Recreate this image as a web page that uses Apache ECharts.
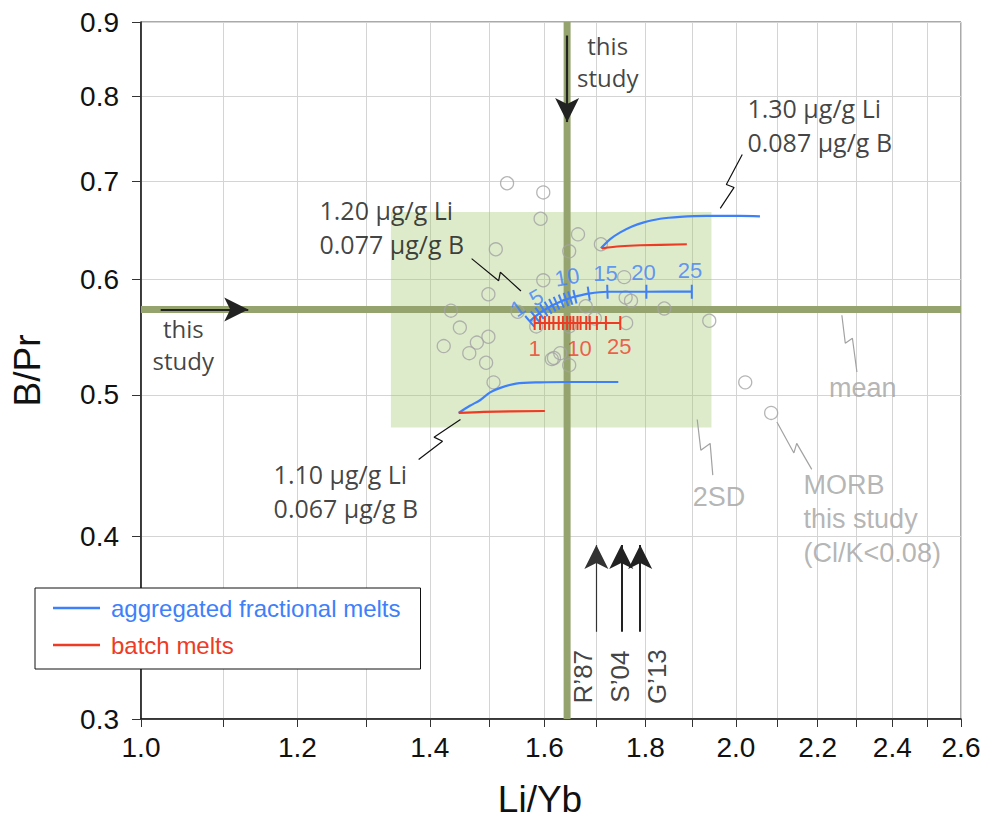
<!DOCTYPE html>
<html>
<head>
<meta charset="utf-8">
<script src="https://cdn.jsdelivr.net/npm/echarts@6/dist/echarts.min.js"></script>
<style>
  html, body { margin: 0; padding: 0; background: #fff; }
  #chart { width: 990px; height: 825px; }
</style>
</head>
<body>
<div id="chart"></div>
<script>
// MORB glasses, this study (Cl/K < 0.08)
const morbLiYb = [1.532, 1.598, 1.593, 1.664, 1.709, 1.647, 1.512, 1.598, 1.756, 1.499, 1.759, 1.770,
  1.435, 1.551, 1.679, 1.840, 1.939, 1.760, 1.450, 1.697, 1.585, 1.647, 1.499, 1.479, 1.423, 1.466,
  1.630, 1.618, 1.614, 1.647, 1.495, 1.508, 2.022, 2.084];
const morbBPr = [0.698, 0.688, 0.660, 0.644, 0.634, 0.627, 0.629, 0.599, 0.602, 0.586, 0.583, 0.580,
  0.571, 0.570, 0.575, 0.573, 0.562, 0.560, 0.556, 0.564, 0.557, 0.557, 0.548, 0.543, 0.540, 0.534,
  0.534, 0.530, 0.529, 0.524, 0.526, 0.510, 0.510, 0.486];

// mean and 2SD box
const meanLiYb = 1.643;
const meanBPr = 0.572;
const sd2LiYb = [1.338, 1.944];
const sd2BPr = [0.475, 0.667];

// melting models: aggregated fractional (afm) and batch, three source compositions
const afmMidLiYb = [1.573, 1.583, 1.591, 1.599, 1.607, 1.615, 1.623, 1.632, 1.641, 1.649, 1.658, 1.685, 1.722, 1.802, 1.900];
const afmMidBPr = [0.5615, 0.5656, 0.5687, 0.5714, 0.5736, 0.5759, 0.5777, 0.5796, 0.5811, 0.5825, 0.5837, 0.5866, 0.5883, 0.5883, 0.5884];
const batchMidLiYb = [1.582, 1.592, 1.601, 1.609, 1.617, 1.627, 1.635, 1.643, 1.649, 1.655, 1.663, 1.669, 1.680, 1.687, 1.701, 1.719, 1.748];
const batchMidBPr = [0.560, 0.560, 0.560, 0.560, 0.560, 0.560, 0.560, 0.560, 0.560, 0.560, 0.560, 0.560, 0.560, 0.560, 0.560, 0.560, 0.560];
const afmHighLiYb = [1.709, 1.727, 1.748, 1.772, 1.795, 1.831, 1.874, 1.932, 2.010, 2.057];
const afmHighBPr = [0.630, 0.639, 0.646, 0.652, 0.656, 0.660, 0.662, 0.663, 0.663, 0.6625];
const batchHighLiYb = [1.711, 1.748, 1.789, 1.889];
const batchHighBPr = [0.630, 0.632, 0.633, 0.634];
const afmLowLiYb = [1.448, 1.467, 1.485, 1.502, 1.520, 1.548, 1.592, 1.648, 1.744];
const afmLowBPr = [0.486, 0.4915, 0.496, 0.502, 0.5056, 0.509, 0.510, 0.5103, 0.5103];
const batchLowLiYb = [1.448, 1.491, 1.601];
const batchLowBPr = [0.486, 0.4868, 0.4875];

// % melting labels
const afmPctText = ['1', '5', '10', '15', '20', '25'];
const afmPctLiYb = [1.551, 1.585, 1.643, 1.718, 1.796, 1.896];
const afmPctBPr = [0.573, 0.583, 0.602, 0.605, 0.606, 0.6085];
const batchPctText = ['1', '10', '25'];
const batchPctLiYb = [1.582, 1.667, 1.746];
const batchPctBPr = [0.538, 0.538, 0.540];

// literature means
const refText = ['R’87', 'S’04', 'G’13'];
const refLiYb = [1.700, 1.750, 1.789];
const refArrowBPr = [0.3442, 0.3946];
const refLabelLiYb = [1.674, 1.7475, 1.825];
const refLabelBPr = 0.3207;

// axis ticks
const xTicks = [1.0, 1.1, 1.2, 1.3, 1.4, 1.5, 1.6, 1.7, 1.8, 1.9, 2.0, 2.1, 2.2, 2.3, 2.4, 2.5, 2.6];
const xLabels = [1.0, 1.2, 1.4, 1.6, 1.8, 2.0, 2.2, 2.4, 2.6];
const yTicks = [0.3, 0.4, 0.5, 0.6, 0.7, 0.8, 0.9];

// annotation anchors
const noteText = ['1.30 µg/g Li\n0.087 µg/g B', '1.20 µg/g Li\n0.077 µg/g B', '1.10 µg/g Li\n0.067 µg/g B'];
const noteLiYb = [2.026, 1.2305, 1.1664];
const noteBPr = [0.7647, 0.6515, 0.430];
const studyText = ['this\nstudy', 'this\nstudy'];
const studyLiYb = [1.7226, 1.0505];
const studyBPr = [0.8456, 0.5416];
const greyText = ['mean', '2SD'];
const greyLiYb = [2.319, 1.961];
const greyBPr = [0.5053, 0.4258];
const morbText = ['MORB\nthis study\n(Cl/K<0.08)'];
const morbNoteLiYb = [2.163];
const morbNoteBPr = [0.411];

const leader130 = [[1.964, 0.6709], [1.996, 0.6934], [1.978, 0.6967], [2.015, 0.7304]];
const leader120 = [[1.470, 0.6198], [1.517, 0.5986], [1.520, 0.6066], [1.557, 0.589]];
const leader110 = [[1.451, 0.481], [1.407, 0.4678], [1.421, 0.4648], [1.382, 0.4516]];
const leaderMean = [[2.263, 0.5669], [2.272, 0.5424], [2.291, 0.5467], [2.303, 0.5184]];
const leader2SD = [[1.912, 0.481], [1.920, 0.4583], [1.941, 0.4632], [1.947, 0.4406]];
const leaderMORB = [[2.098, 0.4791], [2.140, 0.4563], [2.147, 0.4632], [2.185, 0.4446]];

const studyArrowV = [[meanLiYb, 0.881], [meanLiYb, 0.7687]];
const studyArrowH = [[1.0232, meanBPr], [1.1331, meanBPr]];

const BLUE = '#3e80fa';
const RED = '#ee3b24';
const OLIVE = '#95a46f';
const GREY = '#a2a2a2';
const FONT = '"Liberation Sans", Arial, sans-serif';
const FONT2 = '"Open Sans", "Noto Sans", sans-serif';

const pairs = (xs, ys) => xs.map((x, i) => [x, ys[i]]);

function curve(name, xs, ys, color) {
  return {
    name: name, type: 'line', z: 4, smooth: 0.3, symbol: 'none', silent: true,
    lineStyle: { color: color, width: 2.2 }, itemStyle: { color: color },
    data: pairs(xs, ys)
  };
}

// tick marks drawn across the curve
function ticks(name, xs, ys, color) {
  const pts = pairs(xs, ys);
  return {
    name: name, type: 'custom', z: 5, silent: true, data: pts,
    renderItem: function (params, api) {
      const i = params.dataIndex;
      const p = api.coord(pts[i]);
      const a = api.coord(pts[Math.max(i - 1, 0)]);
      const b = api.coord(pts[Math.min(i + 1, pts.length - 1)]);
      const dx = b[0] - a[0], dy = b[1] - a[1];
      const L = Math.hypot(dx, dy) || 1;
      const nx = -dy / L * 7, ny = dx / L * 7;
      return {
        type: 'line',
        shape: { x1: p[0] - nx, y1: p[1] - ny, x2: p[0] + nx, y2: p[1] + ny },
        style: { stroke: color, lineWidth: 2 }
      };
    }
  };
}

function labels(name, xs, ys, texts, label, rot) {
  return {
    name: name, type: 'scatter', z: 10, silent: true, symbolSize: 1,
    itemStyle: { color: 'rgba(0,0,0,0)' },
    label: Object.assign({ show: true }, label),
    data: xs.map((x, i) => ({
      value: [x, Array.isArray(ys) ? ys[i] : ys],
      label: { formatter: texts[i], rotate: rot ? rot[i] : 0 }
    }))
  };
}

function leader(name, pts, color) {
  return {
    name: name, type: 'line', z: 6, silent: true, symbol: 'none',
    lineStyle: { color: color, width: 1.2 }, data: pts
  };
}

function arrow(from, to, color, width) {
  return [{ coord: from, lineStyle: { color: color, width: width, type: 'solid' } }, { coord: to }];
}

const chart = echarts.init(document.getElementById('chart'), null, { renderer: 'svg' });

const option = {
  animation: false,
  textStyle: { fontFamily: FONT },
  grid: { left: 141, right: 29, top: 22, bottom: 106, show: true, borderColor: '#555', borderWidth: 1 },
  legend: {
    left: 35, top: 588, orient: 'vertical',
    backgroundColor: '#fff', borderColor: '#111', borderWidth: 1,
    padding: [8, 20, 12, 18], itemGap: 13, itemWidth: 47, itemHeight: 2.4,
    icon: 'rect',
    textStyle: { fontSize: 24, fontFamily: FONT, padding: [0, 0, 0, 6] },
    data: [
      { name: 'aggregated fractional melts', textStyle: { color: BLUE } },
      { name: 'batch melts', textStyle: { color: RED } }
    ]
  },
  xAxis: {
    type: 'log', logBase: 10, min: 1, max: 2.6,
    name: 'Li/Yb', nameLocation: 'middle', nameGap: 62,
    nameTextStyle: { fontSize: 37, color: '#111', padding: [0, 22, 0, 0] },
    axisLine: { show: true, lineStyle: { color: '#111', width: 1.5 } },
    axisTick: { show: true, customValues: xTicks, length: 8, lineStyle: { color: '#333' } },
    axisLabel: { customValues: xLabels, formatter: v => v.toFixed(1), fontSize: 28, color: '#111', margin: 14 },
    splitLine: { show: true, lineStyle: { color: '#d4d4d4', width: 1 } },
    minorTick: { show: false }, minorSplitLine: { show: false }
  },
  yAxis: {
    type: 'log', logBase: 10, min: 0.3, max: 0.9,
    name: 'B/Pr', nameLocation: 'middle', nameGap: 95,
    nameTextStyle: { fontSize: 37, color: '#111' },
    axisLine: { show: true, lineStyle: { color: '#111', width: 1.5 } },
    axisTick: { show: true, customValues: yTicks, length: 9, lineStyle: { color: '#333' } },
    axisLabel: { customValues: yTicks, formatter: v => v.toFixed(1), fontSize: 28, color: '#111', margin: 22 },
    splitLine: { show: true, lineStyle: { color: '#d4d4d4', width: 1 } },
    minorTick: { show: false }, minorSplitLine: { show: false }
  },
  series: [
    {
      name: '2SD', type: 'line', data: [], silent: true,
      markArea: {
        silent: true,
        itemStyle: { color: 'rgba(160,200,110,0.36)' },
        data: [[{ coord: [sd2LiYb[0], sd2BPr[0]] }, { coord: [sd2LiYb[1], sd2BPr[1]] }]]
      }
    },
    {
      name: 'mean Li/Yb', type: 'line', z: 2, silent: true, symbol: 'none',
      lineStyle: { color: OLIVE, width: 7 }, data: [[meanLiYb, 0.3], [meanLiYb, 0.9]]
    },
    {
      name: 'mean B/Pr', type: 'line', z: 2, silent: true, symbol: 'none',
      lineStyle: { color: OLIVE, width: 7 }, data: [[1.0, meanBPr], [2.6, meanBPr]]
    },
    {
      name: 'MORB', type: 'scatter', z: 3, silent: true, symbol: 'circle', symbolSize: 13,
      itemStyle: { color: 'rgba(0,0,0,0)', borderColor: GREY, borderWidth: 1.3 },
      data: pairs(morbLiYb, morbBPr)
    },
    curve('aggregated fractional melts', afmMidLiYb, afmMidBPr, BLUE),
    curve('aggregated fractional melts', afmHighLiYb, afmHighBPr, BLUE),
    curve('aggregated fractional melts', afmLowLiYb, afmLowBPr, BLUE),
    curve('batch melts', batchMidLiYb, batchMidBPr, RED),
    curve('batch melts', batchHighLiYb, batchHighBPr, RED),
    curve('batch melts', batchLowLiYb, batchLowBPr, RED),
    ticks('afm ticks', afmMidLiYb, afmMidBPr, BLUE),
    ticks('batch ticks', batchMidLiYb, batchMidBPr, RED),
    labels('afm %', afmPctLiYb, afmPctBPr, afmPctText,
      { position: 'inside', fontSize: 22, color: BLUE }, [35, 30, 10, 0, 0, 0]),
    labels('batch %', batchPctLiYb, batchPctBPr, batchPctText,
      { position: 'inside', fontSize: 22, color: RED }),
    labels('notes', noteLiYb, noteBPr, noteText,
      { position: 'right', distance: 0, fontSize: 25, lineHeight: 34, fontFamily: FONT2, color: '#111', align: 'left' }),
    labels('this study', studyLiYb, studyBPr, studyText,
      { position: 'inside', fontSize: 24, lineHeight: 32, fontFamily: FONT2, color: '#111', align: 'center' }),
    labels('grey notes', greyLiYb, greyBPr, greyText,
      { position: 'inside', fontSize: 27, color: GREY }),
    labels('morb note', morbNoteLiYb, morbNoteBPr, morbText,
      { position: 'right', distance: 0, fontSize: 27, lineHeight: 34, color: GREY, align: 'left' }),
    labels('refs', refLabelLiYb, refLabelBPr, refText,
      { position: 'inside', fontSize: 26, color: '#111' }, [90, 90, 90]),
    leader('leader 1.30', leader130, '#111'),
    leader('leader 1.20', leader120, '#111'),
    leader('leader 1.10', leader110, '#111'),
    leader('leader mean', leaderMean, GREY),
    leader('leader 2SD', leader2SD, GREY),
    leader('leader MORB', leaderMORB, GREY),
    {
      name: 'arrows', type: 'line', data: [], silent: true,
      markLine: {
        silent: true, symbol: ['none', 'arrow'], symbolSize: [18, 24],
        label: { show: false },
        lineStyle: { type: 'solid' },
        data: [
          arrow(studyArrowV[0], studyArrowV[1], '#222', 2.2),
          arrow(studyArrowH[0], studyArrowH[1], '#222', 2.2),
          arrow([refLiYb[0], refArrowBPr[0]], [refLiYb[0], refArrowBPr[1]], '#333', 1.2),
          arrow([refLiYb[1], refArrowBPr[0]], [refLiYb[1], refArrowBPr[1]], '#222', 2),
          arrow([refLiYb[2], refArrowBPr[0]], [refLiYb[2], refArrowBPr[1]], '#222', 2)
        ]
      }
    }
  ]
};

chart.setOption(option);
</script>
</body>
</html>
